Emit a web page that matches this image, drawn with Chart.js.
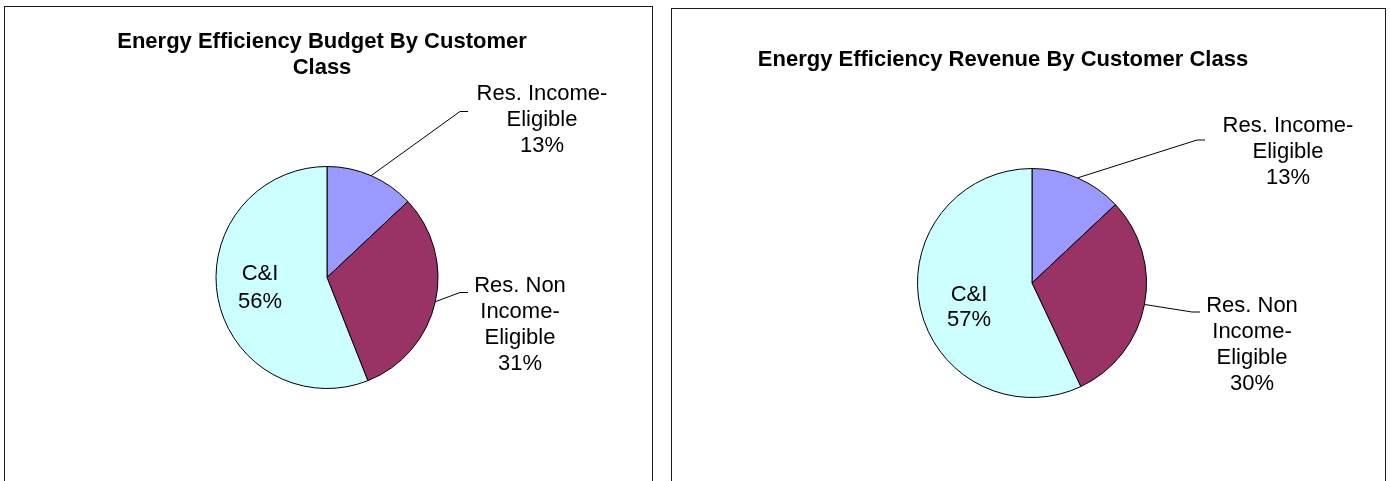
<!DOCTYPE html>
<html>
<head>
<meta charset="utf-8">
<script src="https://cdn.jsdelivr.net/npm/chart.js@4.4.0/dist/chart.umd.min.js"></script>
<style>
  body { margin: 0; background: #fff; width: 1390px; height: 481px; overflow: hidden; position: relative; }
  .panel { position: absolute; border: 1px solid #1a1a1a; background: #fff; box-sizing: border-box; height: 520px; }
  #left { left: 4px; top: 6px; width: 649px; }
  #right { left: 671px; top: 8px; width: 715px; }
  canvas { display: block; }
</style>
</head>
<body>
<div class="panel" id="left"><canvas id="budgetChart" width="647" height="480"></canvas></div>
<div class="panel" id="right"><canvas id="revenueChart" width="713" height="480"></canvas></div>
<script>
// slices go clockwise from 12 o'clock
const categories = ["Res. Income-Eligible", "Res. Non Income-Eligible", "C&I"];
const labelLines = [["Res. Income-", "Eligible"], ["Res. Non", "Income-", "Eligible"], ["C&I"]];
const budgetShares = [13, 31, 56];
const revenueShares = [13, 30, 57];
const sliceColors = ["#9999FF", "#993366", "#CCFFFF"];

const FONT = '"Liberation Sans", Arial, sans-serif';

// title drawn at its own spot (not centred on the panel in the original)
const panelTitle = {
    id: "panelTitle",
    afterDraw(chart, args, opts) {
        const ctx = chart.ctx;
        ctx.save();
        ctx.font = "bold 22px " + FONT;
        ctx.textAlign = "center";
        ctx.textBaseline = "middle";
        ctx.fillStyle = "#000";
        opts.lines.forEach((t, k) => ctx.fillText(t, opts.x, opts.y + k * 26));
        ctx.restore();
    }
};

// label text + leader lines (positions relative to pie centre)
const sliceLabels = {
    id: "sliceLabels",
    afterDatasetsDraw(chart, args, opts) {
        const ctx = chart.ctx;
        const meta = chart.getDatasetMeta(0);
        const values = chart.data.datasets[0].data;
        const total = values.reduce((a, b) => a + b, 0);
        ctx.save();
        ctx.font = "22px " + FONT;
        ctx.textAlign = "center";
        ctx.textBaseline = "middle";
        ctx.fillStyle = "#000";
        ctx.strokeStyle = "#000";
        ctx.lineWidth = 1;
        meta.data.forEach((arc, i) => {
            const pos = opts.positions[i];
            const cx = arc.x, cy = arc.y;
            if (pos.elbow) {
                const mid = (arc.startAngle + arc.endAngle) / 2;
                const sx = cx + Math.cos(mid) * arc.outerRadius;
                const sy = cy + Math.sin(mid) * arc.outerRadius;
                ctx.beginPath();
                ctx.moveTo(sx, sy);
                ctx.lineTo(cx + pos.elbow[0], cy + pos.elbow[1]);
                ctx.lineTo(cx + pos.elbow[0] + 8, cy + pos.elbow[1]);
                ctx.stroke();
            }
            const lines = labelLines[i].concat(Math.round(values[i] / total * 100) + "%");
            const top = cy + pos.text[1] - (lines.length - 1) * pos.lh / 2;
            lines.forEach((t, k) => ctx.fillText(t, cx + pos.text[0], top + k * pos.lh));
        });
        ctx.restore();
    }
};

function makePie(id, values, title, padding, positions) {
    return new Chart(document.getElementById(id), {
        type: "pie",
        data: {
            labels: categories,
            datasets: [{
                data: values,
                backgroundColor: sliceColors,
                borderColor: "#000",
                borderWidth: 1
            }]
        },
        options: {
            responsive: false,
            animation: false,
            devicePixelRatio: 1,
            layout: { padding: padding },
            plugins: {
                legend: { display: false },
                tooltip: { enabled: false },
                title: { display: false },
                panelTitle: title,
                sliceLabels: { positions: positions }
            }
        },
        plugins: [sliceLabels, panelTitle]
    });
}

makePie("budgetChart", budgetShares,
    { lines: ["Energy Efficiency Budget By Customer", "Class"], x: 317, y: 35 },
    { left: 0, right: 3, top: 159, bottom: 98 },
    [
        { text: [215, -158], elbow: [133, -166], lh: 26 },
        { text: [193, 47], elbow: [133, 15], lh: 26 },
        { text: [-67, 10], lh: 28 }
    ]);

makePie("revenueChart", revenueShares,
    { lines: ["Energy Efficiency Revenue By Customer Class"], x: 331, y: 51 },
    { left: 7, right: 0, top: 159, bottom: 91 },
    [
        { text: [256, -131], elbow: [165, -143], lh: 26 },
        { text: [220, 62], elbow: [160, 29], lh: 26 },
        { text: [-63, 24], lh: 25 }
    ]);
</script>
</body>
</html>
